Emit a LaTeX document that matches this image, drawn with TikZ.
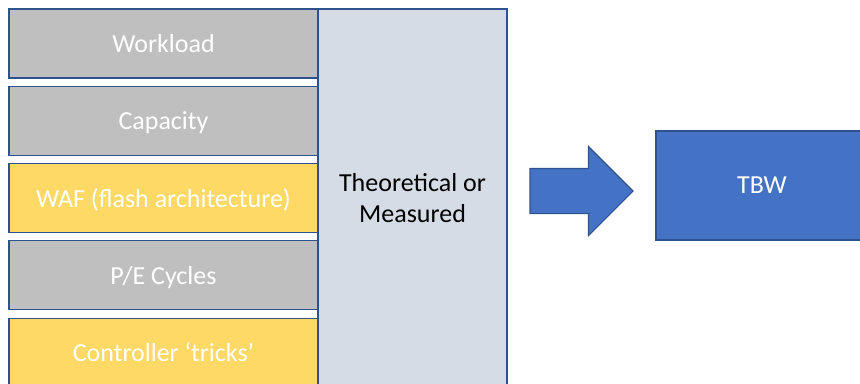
\documentclass[tikz,border=0pt]{standalone}
\usepackage{fontspec}
\setmainfont{Carlito}
\usetikzlibrary{positioning, shapes.arrows}
\definecolor{factorgray}{HTML}{BFBFBF}
\definecolor{factoryellow}{HTML}{FFD966}
\definecolor{methodblue}{HTML}{D6DCE5}
\definecolor{resultblue}{HTML}{4472C4}
\definecolor{edgeblue}{HTML}{2F528F}
\tikzset{%
  % Specifications for style of nodes:
  base/.style = {
    draw=edgeblue,
    line width=0.8pt,
    outer sep=0pt,
    inner sep=0pt,
    text centered,
    font=\fontsize{19.5}{23}\selectfont
  },
  factor/.style={base, rectangle, minimum width=231.75pt,
    minimum height=51.75pt, text=white, text height=13.7pt, text depth=0pt},
  graybox/.style={factor, fill=factorgray},
  yellowbox/.style={factor, fill=factoryellow},
  method/.style={base, rectangle, fill=methodblue, align=center,
    minimum width=141.75pt, minimum height=283.5pt},
  result/.style={base, rectangle, fill=resultblue, text=white,
    minimum width=159pt, minimum height=81.75pt},
  bigarrow/.style={base, single arrow, fill=resultblue,
    inner ysep=16.5pt, minimum height=77.25pt, minimum width=66pt,
    single arrow head extend=16.5pt},
}

\begin{document}
\begin{tikzpicture}[
  x=0.75pt,
  y=-0.75pt,
  node distance=6.2pt,]
  \useasboundingbox (0,0) rectangle (860,383);
  \clip (0,0) rectangle (860,383);
  % nodes
  \node (workload)  [graybox, anchor=north west] at (9,9) {Workload};
  \node (capacity)  [graybox, below=of workload] {Capacity};
  \node (waf)  [yellowbox, below=of capacity] {WAF (flash architecture)};
  \node (pe_cycles)  [graybox, below=of waf] {P/E Cycles};
  \node (controller)  [yellowbox, below=of pe_cycles] {Controller ‘tricks’};
  \node (method)  [method, anchor=north west] at (workload.north east)
  {Theoretical or \\ Measured};
  \node (arrow)  [bigarrow, anchor=tail] at (530,191) {};
  \node (tbw)  [result, anchor=west] at (656,185.5) {TBW};
\end{tikzpicture}
\end{document}
